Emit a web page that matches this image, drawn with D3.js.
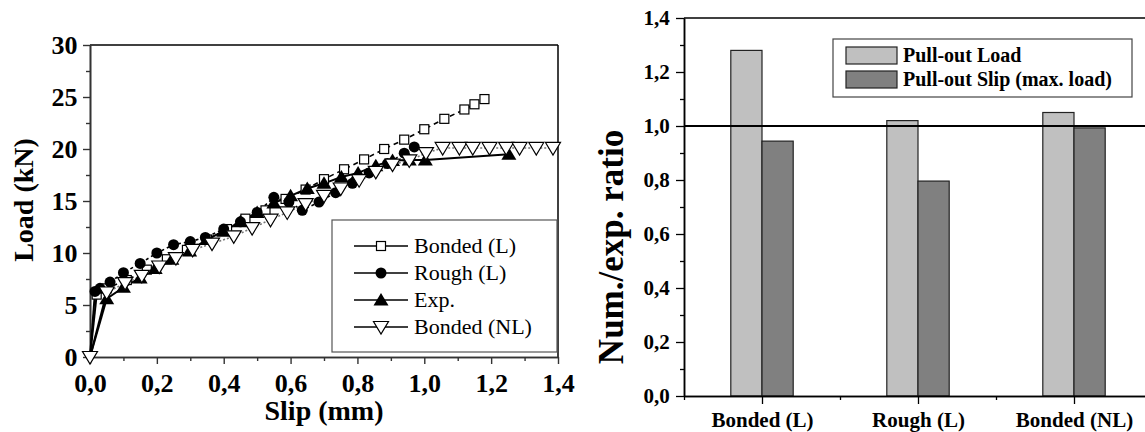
<!DOCTYPE html>
<html><head><meta charset="utf-8">
<script src="https://cdn.jsdelivr.net/npm/d3@7"></script>
<style>
body{margin:0;background:#fff;}
svg{display:block;}
svg text{font-family:"Liberation Serif","Times New Roman",serif !important;}
</style></head>
<body><svg id="c" width="1145" height="432"></svg>
<script>
// ---------- Left chart data (Slip mm, Load kN) ----------
const bondedL_slip = [0, 0.02, 0.05, 0.11, 0.17, 0.23, 0.29, 0.35, 0.41, 0.465, 0.525, 0.585, 0.645, 0.70, 0.76, 0.82, 0.88, 0.94, 1.0, 1.06, 1.12, 1.15, 1.18];
const bondedL_load = [0, 6.0, 6.6, 7.4, 8.4, 9.4, 10.3, 11.3, 12.3, 13.3, 14.1, 15.2, 16.1, 17.1, 18.05, 19.0, 20.0, 20.9, 21.9, 22.9, 23.8, 24.3, 24.8];
const roughL_slip = [0, 0.015, 0.03, 0.06, 0.10, 0.15, 0.20, 0.25, 0.30, 0.345, 0.40, 0.45, 0.50, 0.55, 0.595, 0.635, 0.685, 0.735, 0.785, 0.835, 0.89, 0.94, 0.97];
const roughL_load = [0, 6.3, 6.6, 7.2, 8.1, 9.0, 10.0, 10.8, 11.1, 11.5, 12.3, 13.0, 13.9, 15.35, 14.9, 14.1, 14.9, 15.8, 16.7, 17.7, 18.6, 19.6, 20.2];
const exp_slip = [0, 0.05, 0.10, 0.15, 0.195, 0.245, 0.298, 0.35, 0.40, 0.45, 0.50, 0.55, 0.60, 0.65, 0.70, 0.752, 0.802, 0.855, 0.905, 0.955, 1.003, 1.253];
const exp_load = [0, 5.6, 6.7, 7.6, 8.5, 9.4, 10.2, 11.3, 12.1, 13.0, 13.9, 14.8, 15.5, 16.2, 16.7, 17.3, 17.7, 18.4, 18.9, 18.95, 18.95, 19.5];
const bondedNL_slip = [0, 0.05, 0.105, 0.155, 0.207, 0.257, 0.307, 0.365, 0.43, 0.485, 0.54, 0.59, 0.645, 0.70, 0.75, 0.805, 0.855, 0.905, 0.955, 1.005, 1.055, 1.105, 1.145, 1.195, 1.245, 1.285, 1.335, 1.385];
const bondedNL_load = [0, 6.2, 7.1, 7.8, 8.7, 9.5, 10.3, 10.9, 11.6, 12.4, 13.2, 13.9, 14.7, 15.5, 16.2, 17.0, 17.8, 18.5, 18.9, 19.6, 20.1, 20.1, 20.1, 20.1, 20.1, 20.1, 20.1, 20.1];
const leftNames = ["Bonded (L)", "Rough (L)", "Exp.", "Bonded (NL)"];
const leftXTicks = [0, 0.2, 0.4, 0.6, 0.8, 1.0, 1.2, 1.4];
const leftYTicks = [0, 5, 10, 15, 20, 25, 30];

// ---------- Right chart data ----------
const categories = ["Bonded (L)", "Rough (L)", "Bonded (NL)"];
const pulloutLoad = [1.28, 1.02, 1.05];
const pulloutSlip = [0.944, 0.796, 0.993];
const barNames = ["Pull-out Load", "Pull-out Slip (max. load)"];
const rightYTicks = [0, 0.2, 0.4, 0.6, 0.8, 1.0, 1.2, 1.4];

const SERIF = '"Liberation Serif","Times New Roman",serif';
const svg = d3.select("#c");
const comma = d => d3.format(".1f")(d).replace(".", ",");

// ================= LEFT CHART =================
const xL = d3.scaleLinear().domain([0, 1.4]).range([90, 558]);
const yL = d3.scaleLinear().domain([0, 30]).range([357, 45]);
const gL = svg.append("g");

gL.append("line").attr("x1", 90).attr("x2", 558).attr("y1", 45).attr("y2", 45).attr("stroke", "#000").attr("stroke-width", 1.5);
gL.append("line").attr("x1", 558).attr("x2", 558).attr("y1", 45).attr("y2", 357).attr("stroke", "#000").attr("stroke-width", 1.5);

const axXL = gL.append("g").attr("transform", "translate(0,357)")
  .call(d3.axisBottom(xL).tickValues(leftXTicks).tickFormat(comma).tickSize(7).tickSizeOuter(0));
const axXLm = gL.append("g").attr("transform", "translate(0,357)")
  .call(d3.axisBottom(xL).tickValues(d3.range(0.1, 1.4, 0.2)).tickFormat("").tickSize(4).tickSizeOuter(0));
const axYL = gL.append("g").attr("transform", "translate(90,0)")
  .call(d3.axisLeft(yL).tickValues(leftYTicks).tickFormat(d3.format("d")).tickSize(7).tickSizeOuter(0));
const axYLm = gL.append("g").attr("transform", "translate(90,0)")
  .call(d3.axisLeft(yL).tickValues(d3.range(2.5, 30, 5)).tickFormat("").tickSize(4).tickSizeOuter(0));
[axXL, axXLm, axYL, axYLm].forEach(a => {
  a.attr("font-family", SERIF);
  a.selectAll("path.domain").attr("stroke", "#333").attr("stroke-width", 1.6);
  a.selectAll(".tick line").attr("stroke", "#333").attr("stroke-width", 1.4);
  a.selectAll(".tick text").style("font-family", SERIF).style("font-weight", "bold").style("font-size", "26px").attr("fill", "#000");
});
axXL.selectAll(".tick text").attr("dy", "0.95em");
axYL.selectAll(".tick text").attr("dx", "-0.1em");

gL.append("text").attr("x", 324).attr("y", 420).attr("text-anchor", "middle")
  .style("font-weight", "bold").style("font-size", "28px").text("Slip (mm)");
gL.append("text").attr("transform", "translate(33,200) rotate(-90)").attr("text-anchor", "middle")
  .style("font-weight", "bold").style("font-size", "28px").text("Load (kN)");

const leftSeries = [
  {slip: bondedL_slip, load: bondedL_load, marker: "square", dash: "5,4", lineColor: "#000", originMarker: false},
  {slip: roughL_slip, load: roughL_load, marker: "circle", dash: "3,3", lineColor: "#000", originMarker: false},
  {slip: exp_slip, load: exp_load, marker: "up", dash: null, lineColor: "#000", originMarker: false},
  {slip: bondedNL_slip, load: bondedNL_load, marker: "down", dash: "2,2", lineColor: "#777", originMarker: true}
];
const line = d3.line().x(d => xL(d[0])).y(d => yL(d[1]));

function drawMarker(g, type, cx, cy) {
  if (type === "square") {
    g.append("rect").attr("x", cx - 4.5).attr("y", cy - 4.5).attr("width", 9).attr("height", 9)
      .attr("fill", "#fff").attr("stroke", "#000").attr("stroke-width", 1.2);
  } else if (type === "circle") {
    g.append("circle").attr("cx", cx).attr("cy", cy).attr("r", 5.5).attr("fill", "#000");
  } else if (type === "up") {
    g.append("path").attr("d", `M${cx},${cy - 7}L${cx + 7.5},${cy + 5.5}L${cx - 7.5},${cy + 5.5}Z`).attr("fill", "#000");
  } else if (type === "down") {
    g.append("path").attr("d", `M${cx - 7.5},${cy - 5.5}L${cx + 7.5},${cy - 5.5}L${cx},${cy + 7}Z`)
      .attr("fill", "#fff").attr("stroke", "#000").attr("stroke-width", 1.2);
  }
}

const gData = gL.append("g");
leftSeries.forEach((s) => {
  const pts = s.slip.map((v, i) => [v, s.load[i]]);
  gData.append("path").attr("d", line(pts.slice(0, 2))).attr("fill", "none").attr("stroke", "#000").attr("stroke-width", 2);
  gData.append("path").attr("d", line(pts.slice(1))).attr("fill", "none")
    .attr("stroke", s.lineColor).attr("stroke-width", s.dash ? 1.6 : 2).attr("stroke-dasharray", s.dash);
});
leftSeries.forEach(s => {
  const g = gData.append("g");
  s.slip.forEach((v, i) => {
    if (i === 0 && !s.originMarker) return;
    drawMarker(g, s.marker, xL(v), yL(s.load[i]));
  });
});

const lg = gL.append("g");
lg.append("rect").attr("x", 332).attr("y", 220).attr("width", 225).attr("height", 132)
  .attr("fill", "#fff").attr("stroke", "#555").attr("stroke-width", 1.2);
leftNames.forEach((n, i) => {
  const yy = 246 + i * 27;
  lg.append("line").attr("x1", 354).attr("x2", 408).attr("y1", yy).attr("y2", yy).attr("stroke", "#000").attr("stroke-width", 1.6);
  drawMarker(lg, leftSeries[i].marker, 381, yy);
  lg.append("text").attr("x", 414).attr("y", yy + 7).style("font-size", "22px").text(n);
});

// ================= RIGHT CHART =================
const xR = d3.scaleLinear().domain([0.5, 3.5]).range([684, 1152]);
const yR = d3.scaleLinear().domain([0, 1.4]).range([396, 18]);
const gR = svg.append("g");
const bw = 0.2;

gR.selectAll("rect.load").data(pulloutLoad).join("rect").attr("class", "load")
  .attr("x", (d, i) => xR(i + 1 - bw)).attr("width", xR(1) - xR(1 - bw))
  .attr("y", d => yR(d)).attr("height", d => yR(0) - yR(d))
  .attr("fill", "#c0c0c0").attr("stroke", "#222").attr("stroke-width", 1.2);
gR.selectAll("rect.slip").data(pulloutSlip).join("rect").attr("class", "slip")
  .attr("x", (d, i) => xR(i + 1)).attr("width", xR(1) - xR(1 - bw))
  .attr("y", d => yR(d)).attr("height", d => yR(0) - yR(d))
  .attr("fill", "#808080").attr("stroke", "#222").attr("stroke-width", 1.2);

gR.append("line").attr("x1", 684).attr("x2", 1145).attr("y1", yR(1)).attr("y2", yR(1)).attr("stroke", "#000").attr("stroke-width", 2);
gR.append("line").attr("x1", 684).attr("x2", 1145).attr("y1", 18).attr("y2", 18).attr("stroke", "#000").attr("stroke-width", 1.5);

const axXR = gR.append("g").attr("transform", "translate(0,396)")
  .call(d3.axisBottom(xR).tickValues([1, 2, 3]).tickFormat((d, i) => categories[i]).tickSize(8).tickSizeOuter(0));
const axXRm = gR.append("g").attr("transform", "translate(0,396)")
  .call(d3.axisBottom(xR).tickValues([0.5, 1.5, 2.5]).tickFormat("").tickSize(4).tickSizeOuter(0));
const axYR = gR.append("g").attr("transform", "translate(684,0)")
  .call(d3.axisLeft(yR).tickValues(rightYTicks).tickFormat(comma).tickSize(8).tickSizeOuter(0));
const axYRm = gR.append("g").attr("transform", "translate(684,0)")
  .call(d3.axisLeft(yR).tickValues(d3.range(0.1, 1.4, 0.2)).tickFormat("").tickSize(4).tickSizeOuter(0));
[axXR, axXRm, axYR, axYRm].forEach(a => {
  a.attr("font-family", SERIF);
  a.selectAll("path.domain").attr("stroke", "#000").attr("stroke-width", 1.5);
  a.selectAll(".tick line").attr("stroke", "#000").attr("stroke-width", 1.3);
  a.selectAll(".tick text").style("font-family", SERIF).style("font-weight", "bold").attr("fill", "#000");
});
axXR.selectAll(".tick text").style("font-size", "21px").attr("dy", "0.95em");
axYR.selectAll(".tick text").style("font-size", "21px").attr("dx", "-0.15em");

gR.append("text").attr("transform", "translate(623,247) rotate(-90)").attr("text-anchor", "middle")
  .style("font-weight", "bold").style("font-size", "35px").text("Num./exp. ratio");

const rg = gR.append("g");
rg.append("rect").attr("x", 833).attr("y", 39).attr("width", 299).attr("height", 58)
  .attr("fill", "#fff").attr("stroke", "#444").attr("stroke-width", 1.2);
[["#c0c0c0", 47], ["#808080", 71]].forEach((c, i) => {
  rg.append("rect").attr("x", 846).attr("y", c[1]).attr("width", 51).attr("height", 17)
    .attr("fill", c[0]).attr("stroke", "#222").attr("stroke-width", 1.2);
  rg.append("text").attr("x", 903).attr("y", c[1] + 15).style("font-weight", "bold").style("font-size", "20px").text(barNames[i]);
});
</script></body></html>
